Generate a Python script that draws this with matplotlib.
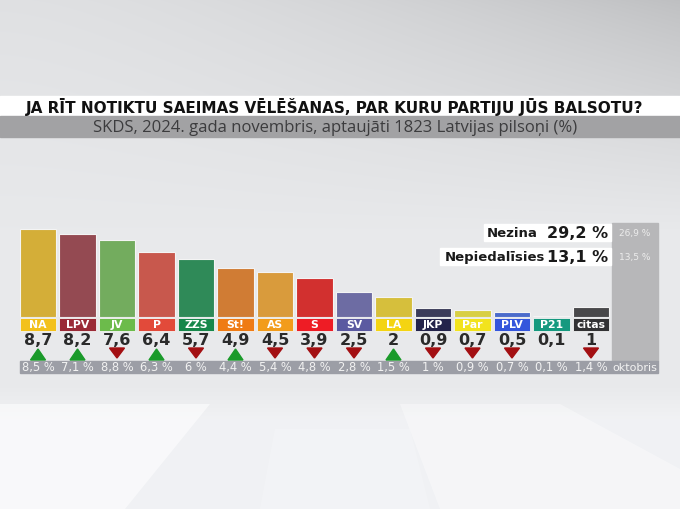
import matplotlib
matplotlib.use('Agg')
import matplotlib.pyplot as plt
from matplotlib.transforms import blended_transform_factory
from matplotlib.patches import Rectangle, Polygon
import numpy as np

# data
parties = ['NA', 'LPV', 'JV', 'P', 'ZZS', 'St!', 'AS', 'S', 'SV', 'LA', 'JKP', 'Par', 'PLV', 'P21', 'citas']
november = [8.7, 8.2, 7.6, 6.4, 5.7, 4.9, 4.5, 3.9, 2.5, 2.0, 0.9, 0.7, 0.5, 0.1, 1.0]
october = [8.5, 7.1, 8.8, 6.3, 6.0, 4.4, 5.4, 4.8, 2.8, 1.5, 1.0, 0.9, 0.7, 0.1, 1.4]
bar_colors = ['#d4ae38', '#944a52', '#73ac5e', '#c8584d', '#2f8a58', '#d07c34', '#d99b3c', '#d2302f',
              '#6d6ca3', '#d6bf3c', '#3b3c5a', '#d8cf45', '#4b6bcb', '#2ea18c', '#48484a']
label_colors = ['#f3c11c', '#9a2a36', '#6cbb4b', '#e24a3a', '#17874b', '#ef7b14', '#f29c1b', '#ee1c25',
                '#5b5aa1', '#f4d412', '#24244b', '#f2e31d', '#3456dc', '#15997f', '#323234']
other_labels = ['Nezina', 'Nepiedalīsies']
other_now = [29.2, 13.1]
other_prev = [26.9, 13.5]

title = 'JA RĪT NOTIKTU SAEIMAS VĒLĒŠANAS, PAR KURU PARTIJU JŪS BALSOTU?'
subtitle = 'SKDS, 2024. gada novembris, aptaujāti 1823 Latvijas pilsoņi (%)'


def fmt(v):
    s = ('%.1f' % v).replace('.', ',')
    if s.endswith(',0'):
        s = s[:-2]
    return s


W, H = 680, 510
fig = plt.figure(figsize=(W / 100, H / 100), dpi=100)

# background axes in pixel coordinates
bg = fig.add_axes([0, 0, 1, 1])
bg.set_xlim(0, W)
bg.set_ylim(H, 0)
bg.axis('off')

# soft studio background
yy, xx = np.mgrid[0:H, 0:W]
top = 0.875 - 0.13 * (xx / W) ** 1.6
mid = np.clip(yy / 230, 0, 1) ** 0.8
base = top * (1 - mid) + 0.91 * mid
floor = np.clip((yy - 385) / 35, 0, 1)
base = base * (1 - floor) + 0.945 * floor
img = np.dstack([base, base + 0.004, base + 0.012])
bg.imshow(np.clip(img, 0, 1), extent=[0, W, H, 0], aspect='auto', zorder=0)
for pts, a in [([(0, 405), (210, 405), (125, 510), (0, 510)], 0.55),
               ([(400, 405), (560, 405), (680, 470), (680, 510), (440, 510)], 0.35),
               ([(275, 430), (410, 430), (430, 510), (260, 510)], 0.2)]:
    bg.add_patch(Polygon(pts, closed=True, color='white', alpha=a, lw=0, zorder=1))

# title bands
bg.add_patch(Rectangle((0, 97), W, 20, color='white', zorder=2))
bg.add_patch(Rectangle((0, 117), W, 21, color='#a2a2a4', zorder=2))
bg.text(335, 107.5, title, ha='center', va='center', fontsize=11.0, fontweight='bold',
        family='DejaVu Sans', color='#111111', zorder=3)
bg.text(335, 128, subtitle, ha='center', va='center', fontsize=12.0,
        family='Open Sans', color='#3c3c3e', zorder=3)

# grey column for the undecided / non-voters
bg.add_patch(Rectangle((612, 224), 46, 138, color='#b7b7b9', zorder=2))
box_y = [233.5, 257.5]
box_left = [484, 440]
label_right = [538, 545]
for lab, now, prev, y, x0, xr in zip(other_labels, other_now, other_prev, box_y, box_left, label_right):
    bg.add_patch(Rectangle((x0, y - 8.5), 611 - x0, 17, color='white', zorder=2))
    bg.text(xr, y, lab, ha='right', va='center', fontsize=9.5, fontweight='bold',
            color='#1a1a1a', zorder=3)
    bg.text(608, y, fmt(now) + ' %', ha='right', va='center', fontsize=11.5, fontweight='bold',
            color='#1a1a1a', zorder=3)
    bg.text(635, y, fmt(prev) + ' %', ha='center', va='center', fontsize=6.5,
            color='#ececec', zorder=3)

# bar axes: index on x, percent on y
ax = fig.add_axes([18.25 / W, (H - 318) / H, 592.5 / W, 101 / H])
ax.set_xlim(-0.5, len(parties) - 0.5)
ax.set_ylim(0, 10)
ax.axis('off')
ax.patch.set_alpha(0)

x = np.arange(len(parties))
ax.bar(x, november, width=0.92, color=bar_colors, edgecolor='#f4f4f4', linewidth=0.8, zorder=3)

# mixed transform: x in bar index, y in pixels from the top
tr = blended_transform_factory(ax.transData, bg.transData)

# bottom strip with october values
bg.add_patch(Rectangle((20, 362), 638, 12, color='#9c9ea6', zorder=2))
bg.text(635, 368, 'oktobris', ha='center', va='center', fontsize=8, color='#f2f2f2', zorder=3)

for i in range(len(parties)):
    ax.add_patch(Rectangle((i - 0.46, 319), 0.92, 12.5, transform=tr, color=label_colors[i],
                           ec='#f4f4f4', lw=0.6, clip_on=False, zorder=4))
    ax.text(i, 325.5, parties[i], transform=tr, ha='center', va='center', fontsize=7.8,
            fontweight='bold', color='white', clip_on=False, zorder=5)
    ax.text(i, 341, fmt(november[i]), transform=tr, ha='center', va='center', fontsize=11.5,
            fontweight='bold', color='#2a2a2a', clip_on=False, zorder=5)
    ax.text(i, 368, fmt(october[i]) + ' %', transform=tr, ha='center', va='center', fontsize=8.3,
            color='#f2f2f2', clip_on=False, zorder=5)
    if november[i] > october[i]:
        ax.add_patch(Polygon([(i - 0.19, 361), (i + 0.19, 361), (i, 350)], closed=True,
                             transform=tr, color='#1a9a2a', clip_on=False, zorder=5))
    elif november[i] < october[i]:
        ax.add_patch(Polygon([(i - 0.19, 349), (i + 0.19, 349), (i, 359)], closed=True,
                             transform=tr, color='#a30f12', clip_on=False, zorder=5))

fig.savefig('out.png', dpi=100)
